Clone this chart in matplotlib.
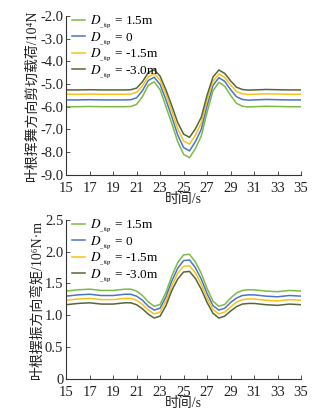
import matplotlib
matplotlib.use("Agg")
import matplotlib.pyplot as plt

plt.rcParams['font.family'] = ['Liberation Serif', 'Noto Sans CJK SC', 'DejaVu Serif']
plt.rcParams['mathtext.fontset'] = 'stix'

time = [15, 16, 17, 18, 19, 20, 20.5, 21, 21.5, 22, 22.5, 23, 23.5, 24, 24.5, 25, 25.5,
        26, 26.5, 27, 27.5, 28, 28.5, 29, 29.5, 30, 30.5, 31, 32, 33, 34, 35]

labels = [r"$D_{_{\_\mathrm{tip}}}$ = 1.5m", r"$D_{_{\_\mathrm{tip}}}$ = 0",
          r"$D_{_{\_\mathrm{tip}}}$ = -1.5m", r"$D_{_{\_\mathrm{tip}}}$ = -3.0m"]
colors = ["#7cbb45", "#4a74c8", "#f7c21a", "#56663a"]

shear_p15 = [-6.0, -6.0, -5.99, -6.0, -6.0, -6.0, -5.99, -5.9, -5.55, -5.05, -4.9, -5.25, -6.0,
             -6.75, -7.55, -8.1, -8.25, -7.85, -7.3, -6.25, -5.3, -4.92, -5.1, -5.5, -5.85,
             -5.98, -6.01, -6.0, -5.98, -5.99, -6.0, -6.0]
shear_0 = [-5.70, -5.70, -5.69, -5.70, -5.70, -5.70, -5.69, -5.61, -5.29, -4.84, -4.70, -5.02,
           -5.70, -6.45, -7.25, -7.80, -7.95, -7.55, -7.00, -5.95, -5.06, -4.72, -4.88, -5.25,
           -5.56, -5.68, -5.71, -5.70, -5.68, -5.69, -5.70, -5.70]
shear_m15 = [-5.45, -5.45, -5.44, -5.45, -5.45, -5.45, -5.44, -5.37, -5.08, -4.67, -4.55, -4.83,
             -5.45, -6.19, -6.97, -7.51, -7.65, -7.26, -6.72, -5.70, -4.88, -4.56, -4.71, -5.04,
             -5.33, -5.43, -5.46, -5.45, -5.43, -5.44, -5.45, -5.45]
shear_m30 = [-5.26, -5.26, -5.25, -5.26, -5.26, -5.26, -5.25, -5.18, -4.90, -4.49, -4.37, -4.65,
             -5.26, -5.96, -6.70, -7.21, -7.35, -6.98, -6.47, -5.49, -4.69, -4.38, -4.53, -4.86,
             -5.14, -5.24, -5.27, -5.26, -5.24, -5.25, -5.26, -5.26]

moment_p15 = [1.38, 1.40, 1.41, 1.39, 1.39, 1.41, 1.41, 1.38, 1.31, 1.21, 1.14, 1.17, 1.36, 1.62,
              1.83, 1.95, 1.96, 1.84, 1.66, 1.42, 1.22, 1.14, 1.17, 1.27, 1.35, 1.39, 1.40, 1.40,
              1.38, 1.37, 1.39, 1.38]
moment_0 = [1.30, 1.32, 1.33, 1.31, 1.31, 1.33, 1.33, 1.30, 1.235, 1.14, 1.08, 1.11, 1.29, 1.54,
            1.74, 1.86, 1.87, 1.75, 1.57, 1.34, 1.15, 1.08, 1.11, 1.20, 1.27, 1.31, 1.32, 1.32,
            1.30, 1.29, 1.31, 1.30]
moment_m15 = [1.235, 1.255, 1.265, 1.245, 1.245, 1.265, 1.265, 1.235, 1.17, 1.08, 1.02, 1.05,
              1.22, 1.46, 1.66, 1.77, 1.78, 1.67, 1.49, 1.27, 1.09, 1.02, 1.05, 1.13, 1.205,
              1.245, 1.255, 1.255, 1.235, 1.225, 1.245, 1.235]
moment_m30 = [1.165, 1.185, 1.195, 1.175, 1.175, 1.195, 1.195, 1.165, 1.10, 1.015, 0.955, 0.985,
              1.15, 1.39, 1.57, 1.68, 1.69, 1.58, 1.41, 1.20, 1.03, 0.955, 0.985, 1.065, 1.135,
              1.175, 1.185, 1.185, 1.165, 1.155, 1.175, 1.165]

xticks = [15, 17, 19, 21, 23, 25, 27, 29, 31, 33, 35]
shear_ticks = [-2.0, -3.0, -4.0, -5.0, -6.0, -7.0, -8.0, -9.0]
moment_ticks = [0, 0.5, 1.0, 1.5, 2.0, 2.5]
moment_ticklabels = ["0", "0.5", "1.0", "1.5", "2.0", "2.5"]

fig = plt.figure(figsize=(3.32, 4.12), dpi=100)
ax1 = fig.add_axes([0.199, 0.576, 0.708, 0.385])
ax2 = fig.add_axes([0.199, 0.081, 0.708, 0.385])

def style(ax):
    for s in ["top", "right"]:
        ax.spines[s].set_visible(False)
    for s in ["left", "bottom"]:
        ax.spines[s].set_color("#333333")
        ax.spines[s].set_linewidth(0.8)
    ax.tick_params(direction="in", length=3, width=0.6, labelsize=10.5, colors="#333333",
                   labelcolor="#222222")
    ax.tick_params(axis="y", pad=2)
    ax.tick_params(axis="x", pad=5)
    ax.set_xlim(15, 35)
    ax.set_xticks(xticks)
    ax.set_xlabel("时间/s", fontsize=10, labelpad=-1, color="#222222")

for ys, c, lab in zip([shear_p15, shear_0, shear_m15, shear_m30], colors, labels):
    ax1.plot(time, ys, color=c, lw=1.1, label=lab)
ax1.set_ylim(-9, -2)
ax1.set_yticks(shear_ticks)
ax1.set_yticklabels([f"{v:.1f}" for v in shear_ticks])
ax1.set_ylabel("叶根挥舞方向剪切载荷/10⁴N", fontsize=10, labelpad=1, color="#222222")
style(ax1)

for ys, c, lab in zip([moment_p15, moment_0, moment_m15, moment_m30], colors, labels):
    ax2.plot(time, ys, color=c, lw=1.1, label=lab)
ax2.set_ylim(0, 2.5)
ax2.set_yticks(moment_ticks)
ax2.set_yticklabels(moment_ticklabels)
ax2.set_ylabel("叶根摆振方向弯矩/10⁶N·m", fontsize=10, labelpad=1, color="#222222")
style(ax2)

for ax in (ax1, ax2):
    ax.legend(loc="upper left", bbox_to_anchor=(0.01, 1.04), frameon=False, fontsize=9.5,
              handlelength=0.95, handletextpad=0.4, labelspacing=0.0, borderaxespad=0.2,
              borderpad=0.1)

fig.savefig("out.png", dpi=100)
